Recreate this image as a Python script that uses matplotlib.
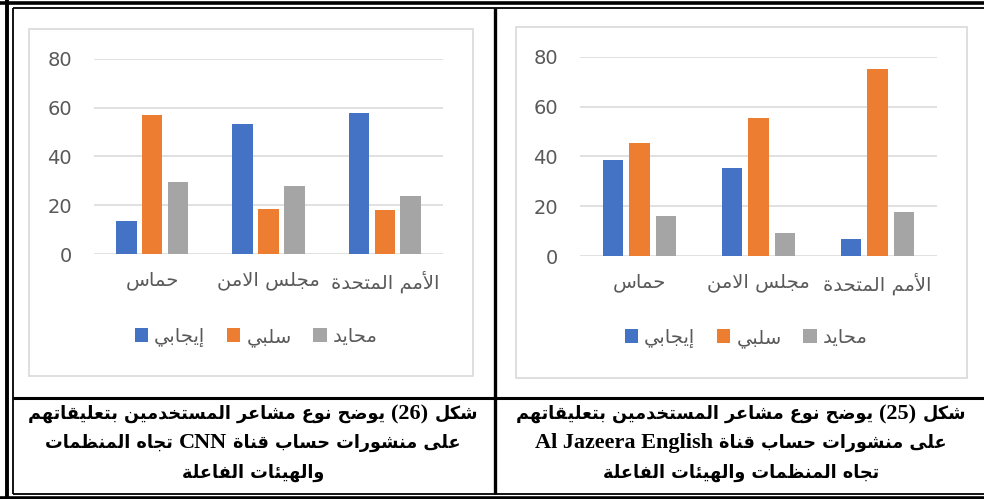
import matplotlib
matplotlib.use("Agg")
import matplotlib.pyplot as plt
from matplotlib.lines import Line2D
from matplotlib.patches import Rectangle

# ---- data ----
categories = ["حماس", "مجلس الامن", "الأمم المتحدة"]
series_names = ["إيجابي", "سلبي", "محايد"]
cnn_positive = [13.5, 53.4, 57.6]
cnn_negative = [56.8, 18.4, 18.0]
cnn_neutral = [29.5, 27.8, 23.9]
aje_positive = [38.4, 35.2, 6.8]
aje_negative = [45.2, 55.5, 75.0]
aje_neutral = [16.0, 9.1, 17.8]
yticks = [0, 20, 40, 60, 80]

colors = ["#4472C4", "#ED7D31", "#A5A5A5"]

# ---- minimal arabic shaping (matplotlib has no bidi / joining) ----
# letter: (isolated, final, initial, medial); two forms -> right-joining only
FORMS = {
    "ا": (0xFE8D, 0xFE8E), "أ": (0xFE83, 0xFE84), "إ": (0xFE87, 0xFE88),
    "ب": (0xFE8F, 0xFE90, 0xFE91, 0xFE92), "ة": (0xFE93, 0xFE94),
    "ت": (0xFE95, 0xFE96, 0xFE97, 0xFE98), "ج": (0xFE9D, 0xFE9E, 0xFE9F, 0xFEA0),
    "ح": (0xFEA1, 0xFEA2, 0xFEA3, 0xFEA4), "خ": (0xFEA5, 0xFEA6, 0xFEA7, 0xFEA8),
    "د": (0xFEA9, 0xFEAA), "ر": (0xFEAD, 0xFEAE),
    "س": (0xFEB1, 0xFEB2, 0xFEB3, 0xFEB4), "ش": (0xFEB5, 0xFEB6, 0xFEB7, 0xFEB8),
    "ض": (0xFEBD, 0xFEBE, 0xFEBF, 0xFEC0), "ظ": (0xFEC5, 0xFEC6, 0xFEC7, 0xFEC8),
    "ع": (0xFEC9, 0xFECA, 0xFECB, 0xFECC), "ف": (0xFED1, 0xFED2, 0xFED3, 0xFED4),
    "ق": (0xFED5, 0xFED6, 0xFED7, 0xFED8), "ك": (0xFED9, 0xFEDA, 0xFEDB, 0xFEDC),
    "ل": (0xFEDD, 0xFEDE, 0xFEDF, 0xFEE0), "م": (0xFEE1, 0xFEE2, 0xFEE3, 0xFEE4),
    "ن": (0xFEE5, 0xFEE6, 0xFEE7, 0xFEE8), "ه": (0xFEE9, 0xFEEA, 0xFEEB, 0xFEEC),
    "و": (0xFEED, 0xFEEE), "ى": (0xFEEF, 0xFEF0),
    "ي": (0xFEF1, 0xFEF2, 0xFEF3, 0xFEF4), "ئ": (0xFE89, 0xFE8A, 0xFE8B, 0xFE8C),
}
LAM_ALEF = {"ا": (0xFEFB, 0xFEFC), "أ": (0xFEF7, 0xFEF8), "إ": (0xFEF9, 0xFEFA)}


def ar(text):
    out = []
    i = 0
    n = len(text)
    while i < n:
        c = text[i]
        if c not in FORMS:
            out.append(c)
            i += 1
            continue
        prev = text[i - 1] if i > 0 else ""
        joins_prev = prev in FORMS and len(FORMS[prev]) == 4
        if c == "ل" and i + 1 < n and text[i + 1] in LAM_ALEF:
            f = LAM_ALEF[text[i + 1]]
            out.append(chr(f[1] if joins_prev else f[0]))
            i += 2
            continue
        f = FORMS[c]
        nxt = text[i + 1] if i + 1 < n else ""
        joins_next = len(f) == 4 and nxt in FORMS
        if joins_prev and joins_next:
            g = f[3]
        elif joins_prev:
            g = f[1]
        elif joins_next:
            g = f[2]
        else:
            g = f[0]
        out.append(chr(g))
        i += 1
    return "".join(out)[::-1]


W, H = 984, 499
fig = plt.figure(figsize=(W / 100, H / 100), dpi=100)
fig.patch.set_facecolor("white")


def fx(x):
    return x / W


def fy(y):
    return 1 - y / H


def line(x0, y0, x1, y1, lw):
    fig.add_artist(Line2D([fx(x0), fx(x1)], [fy(y0), fy(y1)], color="black",
                          lw=lw, transform=fig.transFigure, solid_capstyle="butt"))


def chart(px_box, frame, pos, neg, neu, leg_center):
    x0, y0, x1, y1 = px_box
    fig.add_artist(Rectangle((fx(frame[0]), fy(frame[3])), fx(frame[2] - frame[0]),
                             (frame[3] - frame[1]) / H, transform=fig.transFigure,
                             fill=False, ec="#D9D9D9", lw=1.2))
    ax = fig.add_axes([fx(x0), fy(y1), fx(x1 - x0), (y1 - y0) / H])
    xs = range(len(categories))
    w = 0.175
    off = 0.222
    for k, vals in enumerate([pos, neg, neu]):
        ax.bar([x + (k - 1) * off for x in xs], vals, width=w, color=colors[k],
               label=ar(series_names[k]), zorder=3)
    ax.set_xlim(-0.5, 2.5)
    ax.set_ylim(0, 80)
    ax.set_yticks(yticks)
    ax.set_xticks(list(xs))
    ax.set_xticklabels([ar(c) for c in categories], fontsize=14)
    for s in ax.spines.values():
        s.set_visible(False)
    ax.grid(axis="y", color="#D9D9D9", lw=1.1, zorder=0)
    ax.tick_params(axis="both", length=0, colors="#595959")
    ax.tick_params(axis="y", pad=16, labelsize=14)
    ax.tick_params(axis="x", pad=12)
    ax.legend(loc="center", bbox_to_anchor=(fx(leg_center[0]), fy(leg_center[1])),
              bbox_transform=fig.transFigure, ncol=3, frameon=False, fontsize=14,
              handlelength=0.7, handleheight=0.7, handletextpad=0.3,
              columnspacing=1.1, labelcolor="#595959")
    return ax


chart((94, 58.7, 443, 254), (29, 29, 473, 376),
      cnn_positive, cnn_negative, cnn_neutral, (256, 337))
chart((580, 56.7, 937, 256), (516, 27, 967, 378),
      aje_positive, aje_negative, aje_neutral, (746, 338))

# ---- table borders ----
line(6.5, 0, 6.5, 499, 2.8)          # outer left
line(0, 2.5, 984, 2.5, 2.6)          # outer top
line(0, 498, 984, 498, 2.6)          # outer bottom
line(13, 8, 13, 494, 1.3)            # inner left
line(13, 8, 984, 8, 1.3)             # inner top
line(13, 494, 984, 494, 1.3)         # inner bottom
line(494.5, 8, 494.5, 494, 2.4)      # middle vertical
line(13, 398, 984, 398, 2.2)         # horizontal divider

# ---- captions: arabic and latin runs laid out by hand ----
ar_font = dict(fontsize=12.7, fontweight="bold", family="DejaVu Sans", color="black")
la_font = dict(fontsize=16, fontweight="bold", family="Liberation Serif", color="black")
renderer = fig.canvas.get_renderer()


def caption_line(xc, y, runs, gap=6):
    texts = []
    for s, kind in runs:
        props = ar_font if kind == "a" else la_font
        texts.append(fig.text(0, fy(y), s, ha="left", va="baseline", **props))
    widths = [t.get_window_extent(renderer).width for t in texts]
    x = xc - (sum(widths) + gap * (len(texts) - 1)) / 2
    for t, w in zip(texts, widths):
        t.set_x(fx(x))
        x += w + gap


left_lines = [
    [(ar("يوضح نوع مشاعر المستخدمين بتعليقاتهم"), "a"), ("(26)", "l"), (ar("شكل"), "a")],
    [(ar("تجاه المنظمات"), "a"), ("CNN", "l"), (ar("على منشورات حساب قناة"), "a")],
    [(ar("والهيئات الفاعلة"), "a")],
]
right_lines = [
    [(ar("يوضح نوع مشاعر المستخدمين بتعليقاتهم"), "a"), ("(25)", "l"), (ar("شكل"), "a")],
    [("Al Jazeera English", "l"), (ar("على منشورات حساب قناة"), "a")],
    [(ar("تجاه المنظمات والهيئات الفاعلة"), "a")],
]
for j, y in enumerate([419, 448, 478]):
    caption_line(253, y, left_lines[j])
    caption_line(741, y, right_lines[j])

fig.savefig("out.png", dpi=100)
